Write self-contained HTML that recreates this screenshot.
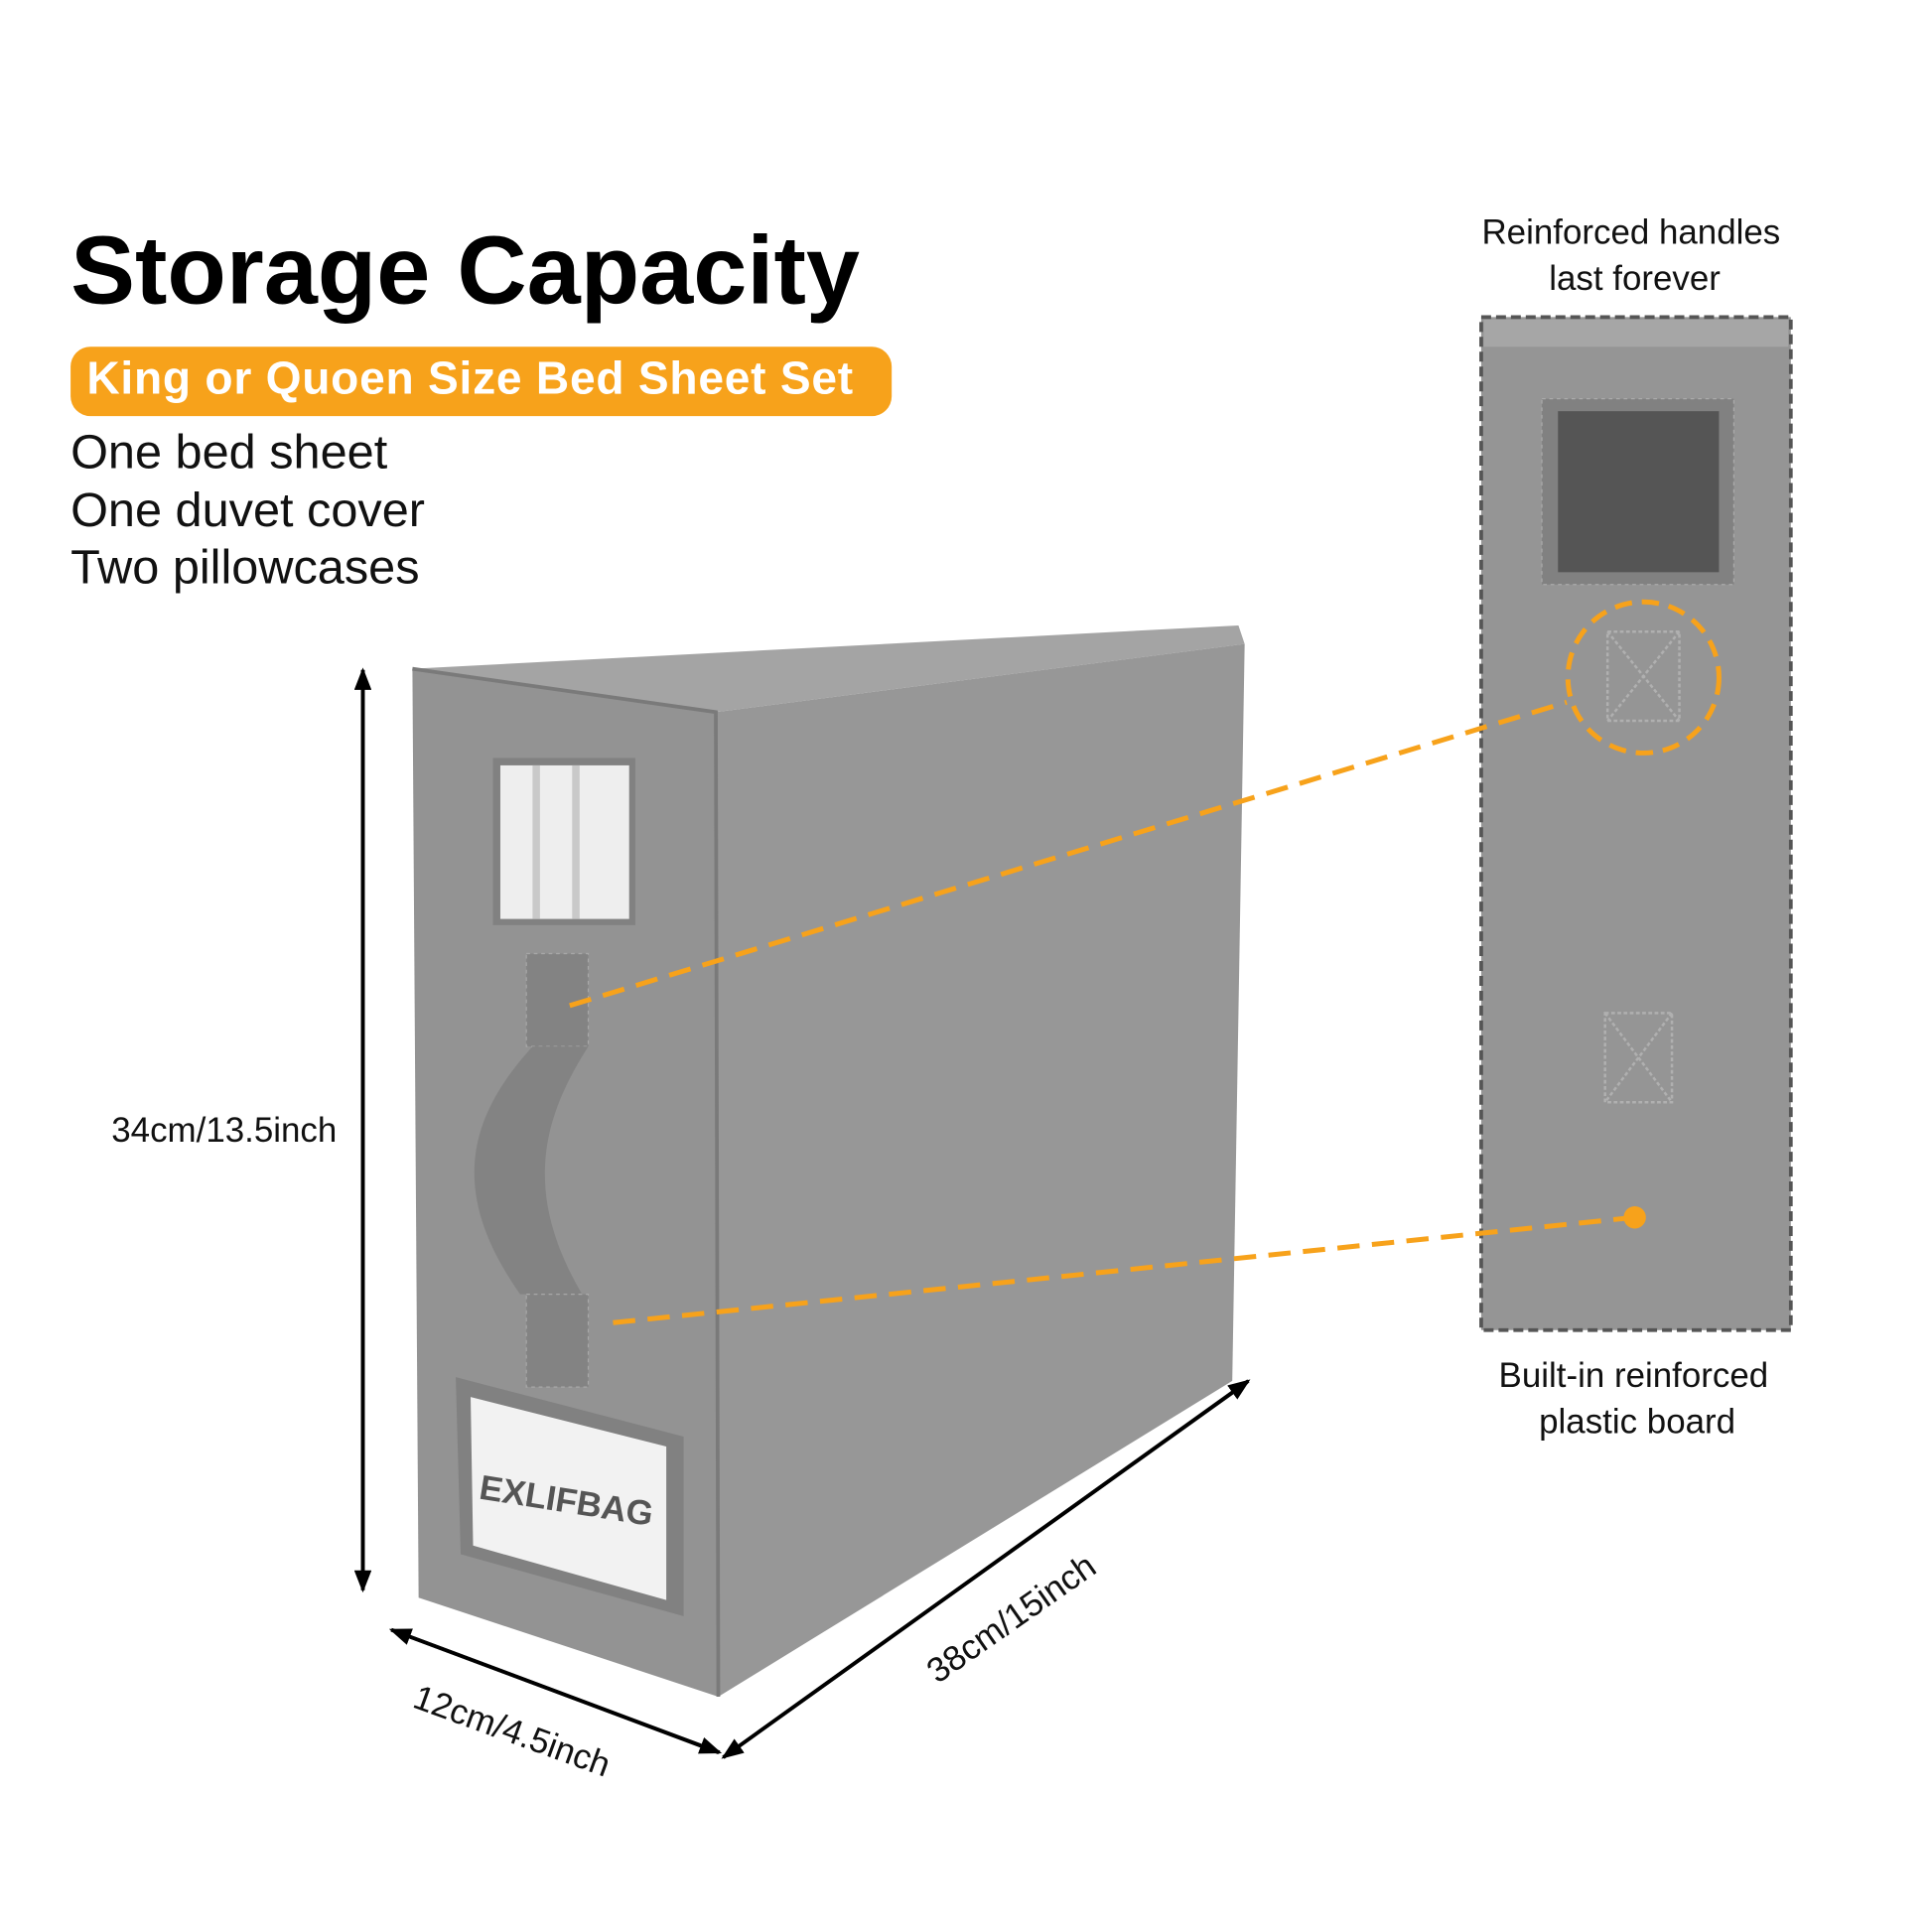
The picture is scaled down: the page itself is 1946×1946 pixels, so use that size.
<!DOCTYPE html>
<html><head><meta charset="utf-8">
<style>
html,body{margin:0;padding:0;background:#fff;}
svg{display:block;}
text{font-family:"Liberation Sans",sans-serif;}
</style></head>
<body>
<svg width="1946" height="1946" viewBox="0 0 1560 1560" xmlns="http://www.w3.org/2000/svg">
<rect width="1560" height="1560" fill="#fff"/>
<text x="57" y="245" font-size="78" font-weight="bold" fill="#000">Storage Capacity</text>
<rect x="57" y="280" width="663" height="56" rx="16" fill="#f7a21b"/>
<text x="70" y="318" font-size="37" font-weight="bold" fill="#fff" letter-spacing="0.6">King or Quoen Size Bed Sheet Set</text>
<text x="57" y="378" font-size="39" fill="#111">One bed sheet</text>
<text x="57" y="425" font-size="39" fill="#111">One duvet cover</text>
<text x="57" y="471" font-size="39" fill="#111">Two pillowcases</text>

<!-- box -->
<polygon points="333,540 1000,505 1005,520 578,575" fill="#a4a4a4"/>
<polygon points="578,575 1005,520 995,1115 580,1370" fill="#979797"/>
<polygon points="333,540 578,575 580,1370 338,1290" fill="#939393"/>
<polyline points="333,540 578,575 580,1370" fill="none" stroke="#7a7a7a" stroke-width="3"/>
<!-- window -->
<rect x="398" y="612" width="115" height="135" fill="#818181"/>
<rect x="404" y="618" width="104" height="124" fill="#eeeeee"/>
<rect x="430" y="618" width="6" height="124" fill="#c9c9c9"/>
<rect x="462" y="618" width="6" height="124" fill="#c9c9c9"/>
<!-- handle -->
<rect x="425" y="770" width="50" height="75" fill="#838383" stroke="#a8a8a8" stroke-dasharray="3,3"/>
<path d="M430 845 C380 900 360 960 420 1045 L470 1045 C420 960 440 900 475 845 Z" fill="#838383"/>
<rect x="425" y="1045" width="50" height="75" fill="#838383" stroke="#a8a8a8" stroke-dasharray="3,3"/>
<!-- label -->
<polygon points="368,1112 552,1160 552,1305 372,1255" fill="#818181"/>
<polygon points="380,1128 538,1168 538,1292 382,1248" fill="#f2f2f2"/>
<text x="0" y="0" font-size="28" font-weight="bold" fill="#555" transform="translate(386,1210) rotate(9)">EXLIFBAG</text>

<!-- right panel -->
<rect x="1196" y="256" width="250" height="818" fill="#959595" stroke="#555" stroke-width="3" stroke-dasharray="8,4"/>
<rect x="1198" y="258" width="246" height="22" fill="#a6a6a6"/>
<rect x="1245" y="322" width="155" height="150" fill="#818181" stroke="#aaa" stroke-dasharray="3,3"/>
<rect x="1258" y="332" width="130" height="130" fill="#555"/>
<rect x="1298" y="510" width="58" height="72" fill="none" stroke="#b0b0b0" stroke-width="2" stroke-dasharray="3,2"/>
<path d="M1298 510 L1356 582 M1356 510 L1298 582" stroke="#b0b0b0" stroke-width="2" stroke-dasharray="3,2"/>
<rect x="1296" y="818" width="54" height="72" fill="none" stroke="#b0b0b0" stroke-width="2" stroke-dasharray="3,2"/>
<path d="M1296 818 L1350 890 M1350 818 L1296 890" stroke="#b0b0b0" stroke-width="2" stroke-dasharray="3,2"/>

<!-- orange leaders -->
<circle cx="1327" cy="547" r="61" fill="none" stroke="#f7a21b" stroke-width="4" stroke-dasharray="14,8"/>
<line x1="460" y1="812" x2="1265" y2="567" stroke="#f7a21b" stroke-width="4" stroke-dasharray="18,10"/>
<line x1="495" y1="1068" x2="1320" y2="983" stroke="#f7a21b" stroke-width="4" stroke-dasharray="18,10"/>
<circle cx="1320" cy="983" r="9" fill="#f7a21b"/>

<text x="1317" y="197" font-size="28" text-anchor="middle" fill="#111">Reinforced handles</text>
<text x="1320" y="234" font-size="28" text-anchor="middle" fill="#111">last forever</text>
<text x="1319" y="1120" font-size="28" text-anchor="middle" fill="#111">Built-in reinforced</text>
<text x="1322" y="1157" font-size="28" text-anchor="middle" fill="#111">plastic board</text>

<!-- dimension arrows -->
<defs><marker id="a" markerWidth="18" markerHeight="14" refX="16" refY="7" orient="auto" markerUnits="userSpaceOnUse" viewBox="0 0 18 14"><path d="M0,0 L18,7 L0,14 Z" fill="#000"/></marker></defs>
<line x1="293" y1="1283" x2="293" y2="541" stroke="#000" stroke-width="3" marker-end="url(#a)"/>
<line x1="293" y1="541" x2="293" y2="1284" stroke="#000" stroke-width="3" marker-end="url(#a)"/>
<text x="90" y="922" font-size="28" fill="#111">34cm/13.5inch</text>
<line x1="580" y1="1415" x2="316" y2="1316" stroke="#000" stroke-width="3" marker-end="url(#a)"/>
<line x1="316" y1="1316" x2="581" y2="1415" stroke="#000" stroke-width="3" marker-end="url(#a)"/>
<line x1="1007" y1="1116" x2="584" y2="1419" stroke="#000" stroke-width="3" marker-end="url(#a)"/>
<line x1="584" y1="1419" x2="1008" y2="1115" stroke="#000" stroke-width="3" marker-end="url(#a)"/>
<text font-size="28" fill="#111" transform="translate(332,1378) rotate(20)">12cm/4.5inch</text>
<text font-size="28" fill="#111" transform="translate(757,1360) rotate(-35)">38cm/15inch</text>
</svg>
</body></html>
